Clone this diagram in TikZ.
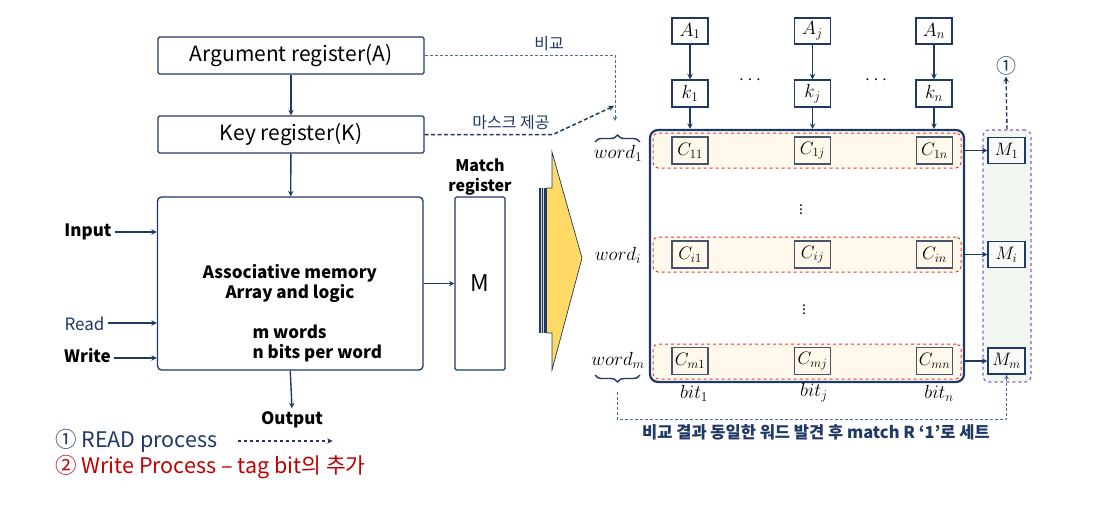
\RequirePackage{fix-cm}
\documentclass[tikz,border=0pt]{standalone}
\usepackage[no-math]{fontspec}
\setmainfont{Noto Sans CJK KR}
\usepackage{tikz}
\usetikzlibrary{positioning, decorations.pathreplacing}
\definecolor{navy}{HTML}{1F3864}
\definecolor{dashblue}{HTML}{4A6BA5}
\definecolor{redtxt}{HTML}{C00000}
\definecolor{rowred}{HTML}{E03A3A}
\definecolor{cream}{HTML}{FFF8EB}
\definecolor{mpurple}{HTML}{8A5CC8}
\definecolor{mgreen}{HTML}{F1F6EF}
\definecolor{arrowyellow}{HTML}{FFD966}
\definecolor{cellgrey}{HTML}{44546A}

\begin{document}
\begin{tikzpicture}[x=1pt, y=-1pt,
	reg/.style={draw=navy, line width=1.3pt, rounded corners=1.5pt, minimum width=266pt, minimum height=37pt, inner sep=0pt, font=\fontsize{21}{25}\selectfont},
	lbl/.style={font=\fontsize{17}{20}\selectfont\bfseries},
	conn/.style={navy, line width=1.4pt, -stealth},
	thindash/.style={dashblue, line width=1pt, dash pattern=on 3pt off 2pt, -stealth},
	bit/.style={draw=navy, line width=1.4pt, fill=white, minimum width=36pt, minimum height=26pt, inner sep=0pt, font=\fontsize{19}{22}\selectfont},
	cell/.style={draw=cellgrey, line width=1.5pt, minimum width=36pt, minimum height=27pt, inner sep=0pt, font=\fontsize{18}{21}\selectfont},
	rowbox/.style={draw=rowred, dashed, line width=1pt, rounded corners=5pt, fill=cream, minimum width=308pt, minimum height=35pt},
	mathlbl/.style={font=\fontsize{19}{22}\selectfont, inner sep=0pt}
]
	\useasboundingbox (0,0) rectangle (1117,519);
	% Registers
	\node[reg] (arg) at (291,55.5) {Argument register(A)};
	\node[reg] (key) at (291,134.5) {Key register(K)};
	\node[draw=navy, line width=1.3pt, rounded corners=4pt, minimum width=265.5pt, minimum height=173pt] (mem) at (290.25,283.5) {};
	\node[lbl, align=center] (memtxt) at (290,283) {Associative memory\\Array and logic};
	\node[lbl, align=left, anchor=west] (size) at (249,343) {m words\\n bits per word};
	\draw[conn] (arg) -- (key);
	\draw[conn] (key) -- (mem);
	% Inputs and output
	\node[lbl] (in) at (88,232) {Input};
	\node[lbl, navy, font=\fontsize{17}{20}\selectfont] (rd) at (84.5,324) {Read};
	\node[lbl] (wr) at (87.5,356) {Write};
	\draw[conn] (in.east) -- (in.east -| mem.west);
	\draw[conn] ([yshift=1pt]rd.east) -- ([yshift=1pt]rd.east -| mem.west);
	\draw[conn] ([yshift=-2pt]wr.east) -- ([yshift=-2pt]wr.east -| mem.west);
	\node[lbl] (out) at (292,420) {Output};
	\draw[conn] (mem.south) -- (out.north);
	% Match register
	\node[lbl, align=center, font=\fontsize{16}{20}\selectfont\bfseries] (mtitle) at (480,177) {Match\\register};
	\node[draw=navy, line width=1.3pt, rounded corners=1.5pt, minimum width=50pt, minimum height=173pt, font=\fontsize{23}{26}\selectfont] (mreg) at (480,283.5) {M};
	\draw[conn] (mem) -- (mreg);
	% Yellow arrow
	\fill[arrowyellow] (539,188) -- (552,188) -- (552,152) -- (582,258) -- (552,370) -- (552,333) -- (539,333) -- cycle;
	\fill[navy] (539,188) rectangle (546.5,333);
	\draw[gray!35, line width=0.9pt] (541.3,188) -- (541.3,333);
	\draw[gray!35, line width=0.9pt] (543.9,188) -- (543.9,333);
	\draw[navy, line width=0.7pt] (546.5,188) -- (552,188) -- (552,152) -- (582,258) -- (552,370) -- (552,333) -- (546.5,333);
	% Compare and mask lines
	\coordinate (cmp) at (615,121);
	\coordinate (msk) at (614,106);
	\draw[thindash] (arg.east) -| (cmp);
	\node[font=\fontsize{16}{19}\selectfont, navy] (cmplbl) at (549,44) {비교};
	\draw[navy, line width=1.5pt, dash pattern=on 4pt off 2.5pt, -stealth] (key.east) -- (553,134.5) -- (msk);
	\node[font=\fontsize{16}{19}\selectfont, navy] (msklbl) at (511,123) {마스크 제공};
	% Array of cells
	\node[draw=navy, line width=2.2pt, rounded corners=8pt, fill=white, minimum width=314pt, minimum height=252pt] (arr) at (807,256) {};
	\node[rowbox] (row1) at (807,150.5) {};
	\node[rowbox] (rowi) at (807,254.5) {};
	\node[rowbox] (rowm) at (807,361.5) {};
	\node[cell] (c11) at (690,150.5) {$C_{11}$};
	\node[cell] (c1j) at (812.5,150.5) {$C_{1j}$};
	\node[cell] (c1n) at (934.5,150.5) {$C_{1n}$};
	\node[cell] (ci1) at (690,254.5) {$C_{i1}$};
	\node[cell] (cij) at (812.5,254.5) {$C_{ij}$};
	\node[cell] (cin) at (934.5,254.5) {$C_{in}$};
	\node[cell] (cm1) at (690,361) {$C_{m1}$};
	\node[cell] (cmj) at (812.5,361) {$C_{mj}$};
	\node[cell] (cmn) at (934.5,361) {$C_{mn}$};
	\node[mathlbl, font=\fontsize{14}{16}\selectfont] (vd1) at (801,207) {$\vdots$};
	\node[mathlbl, font=\fontsize{14}{16}\selectfont] (vd2) at (804,307) {$\vdots$};
	% Argument and key bits
	\node[bit] (a1) at (690,31) {$A_1$};
	\node[bit] (aj) at (812.5,31) {$A_j$};
	\node[bit] (an) at (934,31) {$A_n$};
	\node[bit, minimum height=27pt] (k1) at (690,93.5) {$k_1$};
	\node[bit, minimum height=27pt] (kj) at (812.5,93.5) {$k_j$};
	\node[bit, minimum height=27pt] (kn) at (934,93.5) {$k_n$};
	\node[mathlbl] (hd1) at (750,80) {$\cdots$};
	\node[mathlbl] (hd2) at (876,80) {$\cdots$};
	\draw[conn] (a1) -- (k1);
	\draw[conn] (aj) -- (kj);
	\draw[conn] (an) -- (kn);
	\draw[conn] (k1) -- (k1 |- arr.north);
	\draw[conn] (kj) -- (kj |- arr.north);
	\draw[conn] (kn) -- (kn |- arr.north);
	% Word and bit labels
	\node[mathlbl] (w1) at (618,153) {$word_1$};
	\node[mathlbl] (wi) at (618,255) {$word_i$};
	\node[mathlbl] (wm) at (618,360) {$word_m$};
	\draw[navy, line width=1.4pt, decorate, decoration={brace, amplitude=7pt}] (595,142) -- (640,142);
	\draw[navy, line width=1.4pt, decorate, decoration={brace, amplitude=7pt}] (640,375) -- (595,375);
	\node[mathlbl] (b1) at (694,393) {$bit_1$};
	\node[mathlbl] (bj) at (814,393) {$bit_j$};
	\node[mathlbl] (bn) at (939,393) {$bit_n$};
	% Match bits
	\node[draw=mpurple, dashed, line width=1.1pt, rounded corners=6pt, fill=mgreen, minimum width=48pt, minimum height=252pt] (mcol) at (1007,256) {};
	\node[cell, draw=navy, fill=white!50!mgreen, minimum width=37pt, minimum height=26pt] (m1) at (1006.5,150.5) {$M_1$};
	\node[cell, draw=navy, fill=white!50!mgreen, minimum width=37pt, minimum height=26pt] (mi) at (1006.5,254.5) {$M_i$};
	\node[cell, draw=navy, fill=white!50!mgreen, minimum width=37pt, minimum height=26pt] (mm) at (1006.5,361) {$M_m$};
	\draw[conn] (arr.east |- m1) -- (m1);
	\draw[conn] (arr.east |- mi) -- (mi);
	\draw[conn] (arr.east |- mm) -- (mm);
	\node[font=\fontsize{20}{22}\selectfont, navy, inner sep=1pt] (one) at (1006,66) {①};
	\draw[navy, line width=1.4pt, dash pattern=on 4pt off 2.5pt, -stealth] (mcol.north) -- (one.south);
	% Result line
	\coordinate (bm) at (617,392);
	\draw[thindash] (bm) -- (617,419) -| (mm.south);
	\node[font=\fontsize{16.5}{20}\selectfont\bfseries, navy] (res) at (816,432) {비교 결과 동일한 워드 발견 후 match R ‘1’로 세트};
	% Legend
	\node[anchor=west, font=\fontsize{21.5}{25}\selectfont, navy, inner sep=0pt] (rp) at (55,441) {① READ process};
	\draw[navy, line width=1.4pt, dash pattern=on 3.5pt off 2.5pt, -stealth] ([xshift=20pt]rp.east) -- ++(95,0);
	\node[anchor=west, font=\fontsize{21.5}{25}\selectfont, redtxt, inner sep=0pt] (wp) at (55,467) {② Write Process – tag bit의 추가};
\end{tikzpicture}
\end{document}
